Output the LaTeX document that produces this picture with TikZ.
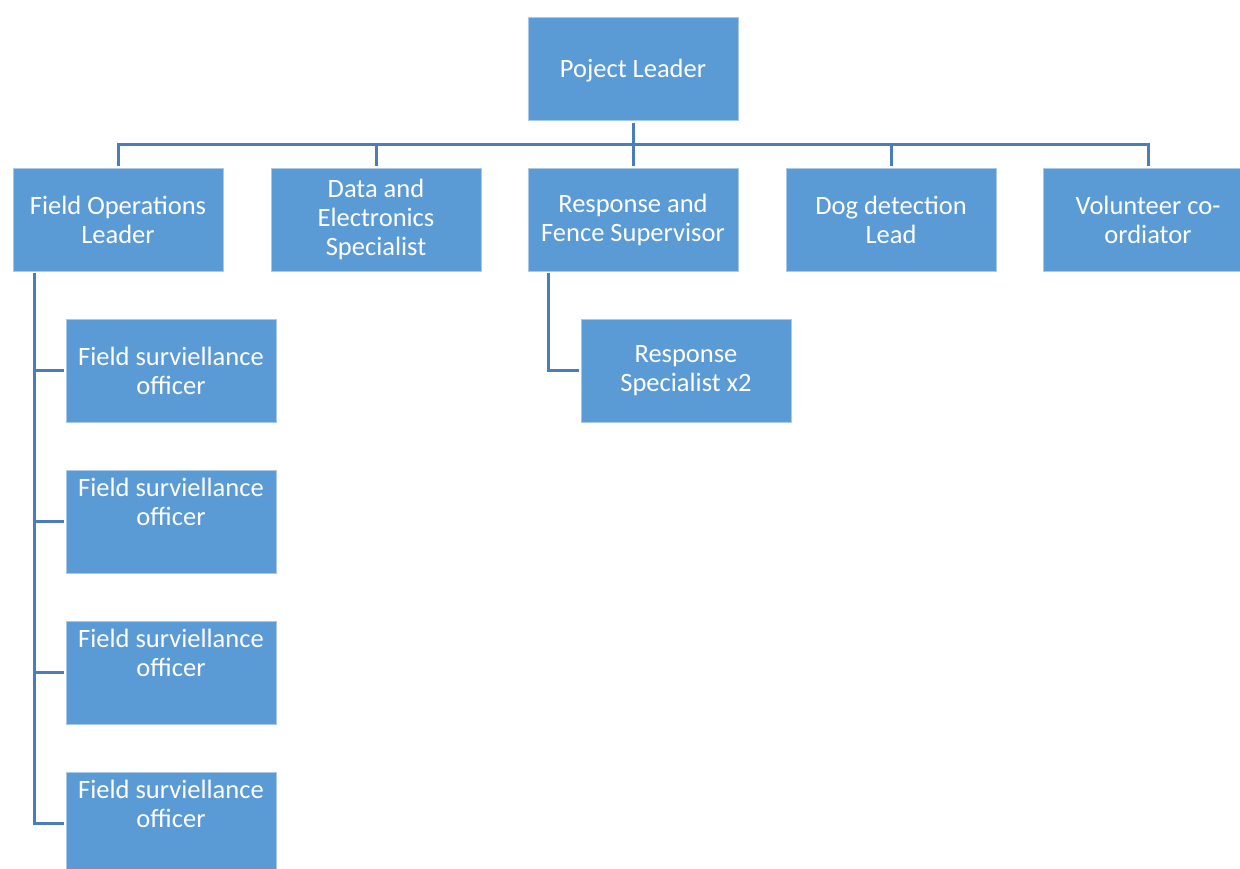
\documentclass[tikz,border=0pt]{standalone}
\usepackage{fontspec}
\setmainfont{Carlito}
\usetikzlibrary{calc}
\definecolor{boxfill}{RGB}{91,155,213}
\definecolor{boxedge}{RGB}{170,200,232}
\definecolor{linkcol}{RGB}{74,126,187}
\tikzset{
  orgbox/.style={rectangle, fill=boxfill, draw=boxedge, line width=0.8pt,
    minimum width=210pt, minimum height=103pt, inner sep=0pt},
  orgtext/.style={text=white, align=center, inner sep=0pt, font=\fontsize{26.5}{29}\selectfont},
  link/.style={draw=linkcol, line width=3pt}
}
\begin{document}
\begin{tikzpicture}[x=1pt,y=-1pt]
\useasboundingbox (0,0) rectangle (1240,868);
\clip (0,0) rectangle (1240,868);
\fill[white] (0,0) rectangle (1240,868);
% top
\node[orgbox] (pl) at (633,68.5) {};
\node[orgtext] at ($(pl.center)+(0,2.5)$) {Poject Leader};
% row 2
\node[orgbox] (fo) at (118,219.5) {};
\node[orgtext] at ($(fo.center)+(0,0.5)$) {Field Operations\\Leader};
\node[orgbox] (de) at (376,219.5) {};
\node[orgtext] at ($(de.center)+(0,0)$) {Data and\\Electronics\\Specialist};
\node[orgbox] (rf) at (633,219.5) {};
\node[orgtext] at ($(rf.center)+(0,0.5)$) {Response and\\Fence Supervisor};
\node[orgbox] (dd) at (891,219.5) {};
\node[orgtext] at ($(dd.center)+(0,0.5)$) {Dog detection\\Lead};
\node[orgbox] (vc) at (1148,219.5) {};
\node[orgtext] at ($(vc.center)+(0,0.5)$) {Volunteer co-\\ordiator};
% officers
\node[orgbox] (f1) at (171,370.5) {};
\node[orgtext] at ($(f1.center)+(0,0.5)$) {Field surviellance\\officer};
\node[orgbox] (f2) at (171,521.5) {};
\node[orgtext] at ($(f2.center)+(0,-19.5)$) {Field surviellance\\officer};
\node[orgbox] (f3) at (171,672.5) {};
\node[orgtext] at ($(f3.center)+(0,-19.5)$) {Field surviellance\\officer};
\node[orgbox] (f4) at (171,823.5) {};
\node[orgtext] at ($(f4.center)+(0,-19.5)$) {Field surviellance\\officer};
% response specialist
\node[orgbox] (rs) at (686,370.5) {};
\node[orgtext] at ($(rs.center)+(0,0.5)$) {Response\\Specialist x2};
% connectors
\coordinate (bus) at (633,144);
\draw[link] ($(pl.south)+(0,3)$) -- (bus);
\draw[link] ($(fo.north)+(0,-2)$) |- (bus) -| ($(vc.north)+(0,-2)$);
\draw[link] ($(de.north)+(0,-2)$) -- ($(de.north)+(0,-24)$);
\draw[link] ($(rf.north)+(0,-2)$) -- ($(rf.north)+(0,-24)$);
\draw[link] ($(dd.north)+(0,-2)$) -- ($(dd.north)+(0,-24)$);
\coordinate (fotrunk) at (34,273);
\draw[link] (fotrunk) |- ($(f4.west)+(-2,0)$);
\draw[link] (34,370.5) -- ($(f1.west)+(-2,0)$);
\draw[link] (34,521.5) -- ($(f2.west)+(-2,0)$);
\draw[link] (34,672.5) -- ($(f3.west)+(-2,0)$);
\coordinate (rftrunk) at (548,273);
\draw[link] (rftrunk) |- ($(rs.west)+(-2,0)$);
\end{tikzpicture}
\end{document}
